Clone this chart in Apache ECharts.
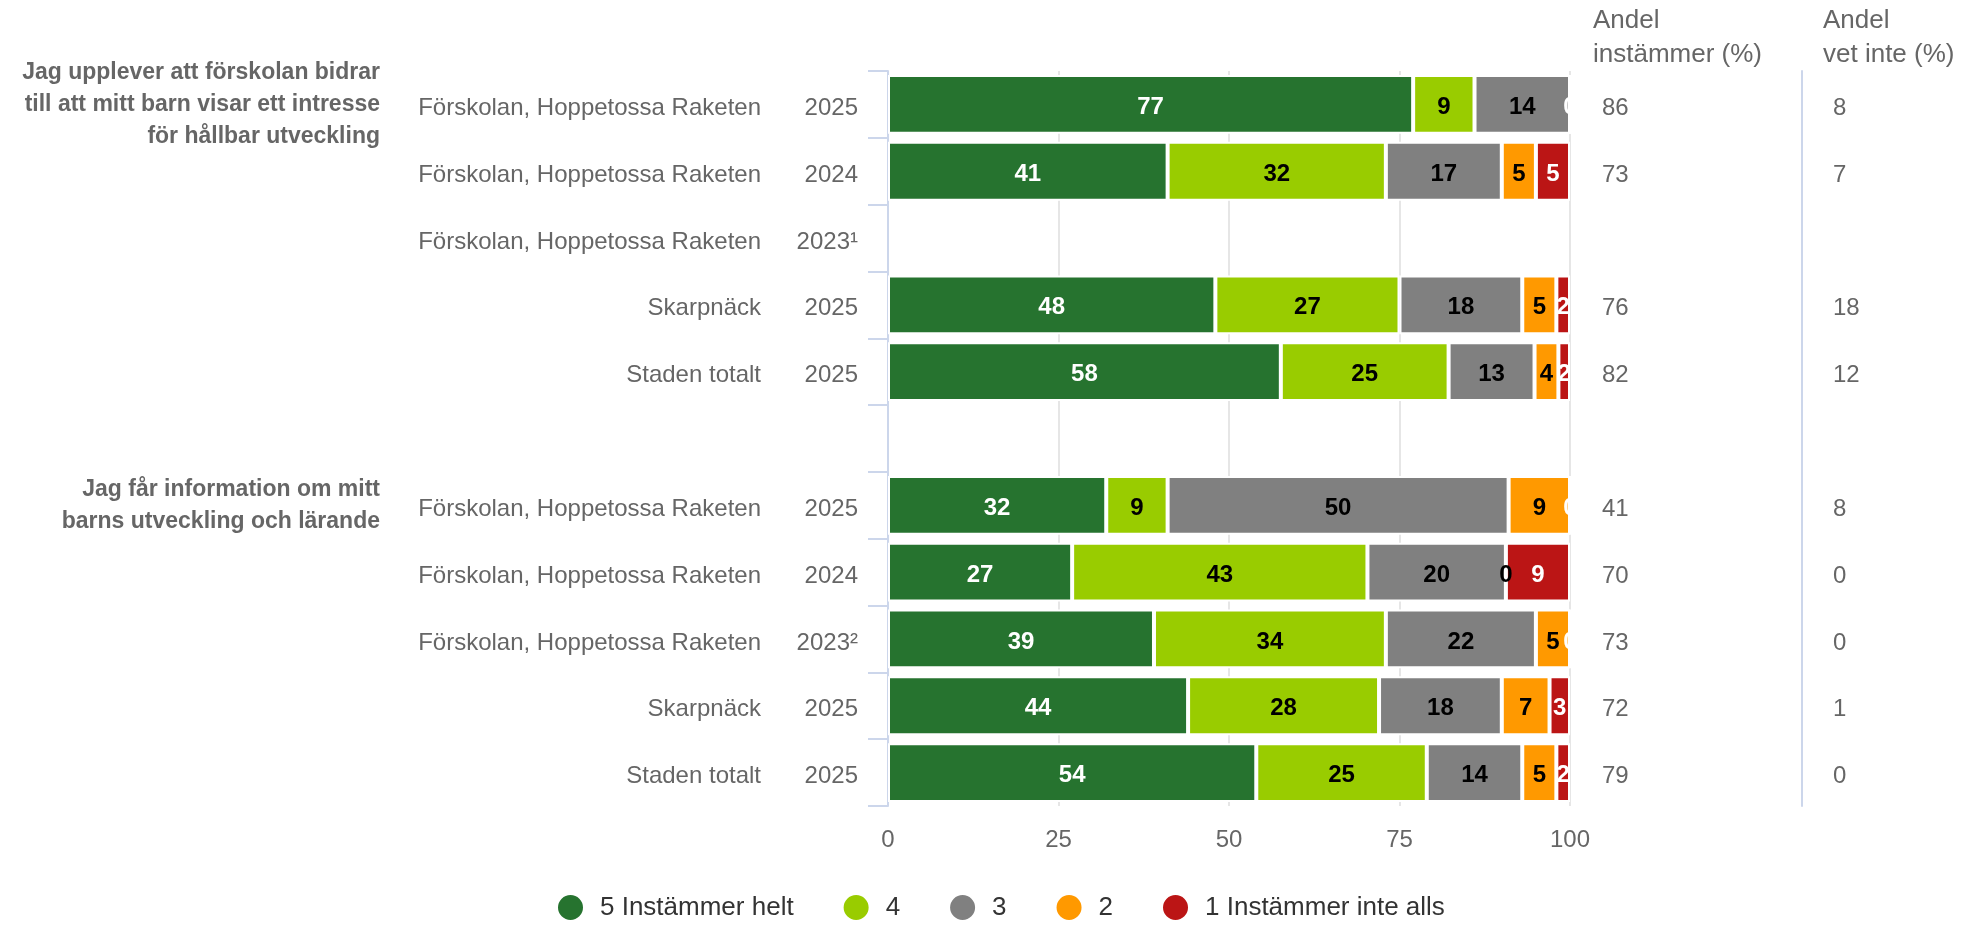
<!DOCTYPE html>
<html>
<head>
<meta charset="utf-8">
<script src="https://cdn.jsdelivr.net/npm/echarts@6/dist/echarts.min.js"></script>
<style>
  html, body { margin: 0; padding: 0; background: #fff; }
  #chart { width: 1967px; height: 925px; }
</style>
</head>
<body>
<div id="chart"></div>
<script>
// rows top to bottom, empty strings mark the missing 2023 row and the gap between questions
var groupLabels = [
  'Jag upplever att förskolan bidrar\ntill att mitt barn visar ett intresse\nför hållbar utveckling', '', '', '', '', '',
  'Jag får information om mitt\nbarns utveckling och lärande', '', '', '', ''
];
var units = [
  'Förskolan, Hoppetossa Raketen', 'Förskolan, Hoppetossa Raketen', 'Förskolan, Hoppetossa Raketen', 'Skarpnäck', 'Staden totalt', '',
  'Förskolan, Hoppetossa Raketen', 'Förskolan, Hoppetossa Raketen', 'Förskolan, Hoppetossa Raketen', 'Skarpnäck', 'Staden totalt'
];
var years = ['2025', '2024', '2023¹', '2025', '2025', '', '2025', '2024', '2023²', '2025', '2025'];

var seriesNames = ['5 Instämmer helt', '4', '3', '2', '1 Instämmer inte alls'];
var v5 = [77, 41, null, 48, 57.6, null, 32, 27, 39, 44, 54];
var v4 = [9, 32, null, 27, 24.6, null, 9, 43.3, 34, 28, 25];
var v3 = [14, 17, null, 18, 12.6, null, 50, 20.3, 22, 18, 14];
var v2 = [0, 5, null, 5, 3.5, null, 9, 0, 5, 7, 5];
var v1 = [0, 5, null, 2, 1.7, null, 0, 9.4, 0, 3, 2];

var andelInstammer = ['86', '73', '', '76', '82', '', '41', '70', '73', '72', '79'];
var andelVetInte = ['8', '7', '', '18', '12', '', '8', '0', '0', '1', '0'];

var xTicks = { min: 0, max: 100, interval: 25 };

var colors = ['#26732f', '#99cc00', '#808080', '#ff9900', '#bb1515'];
var labelColors = ['#ffffff', '#000000', '#000000', '#000000', '#ffffff'];
var values = [v5, v4, v3, v2, v1];

var font = '"Liberation Sans", Arial, Helvetica, sans-serif';
var axisBlue = '#ccd6eb';
var gray = '#666666';

var chart = echarts.init(document.getElementById('chart'), null, { renderer: 'canvas' });

var series = values.map(function (vals, si) {
  return {
    name: seriesNames[si],
    type: 'bar',
    stack: 'total',
    barCategoryGap: '12%',
    data: vals.map(function (v) { return v === null ? '-' : v; }),
    itemStyle: { color: colors[si], borderColor: '#ffffff', borderWidth: 2 },
    label: {
      show: true,
      position: 'inside',
      offset: [0, 3],
      color: labelColors[si],
      fontFamily: font,
      fontSize: 24,
      fontWeight: 'bold',
      formatter: function (p) {
        var v = p.value;
        // a zero followed by another zero sits at the same spot, only the last one is drawn
        if (v === 0 && si < values.length - 1 && values[si + 1][p.dataIndex] === 0) return '';
        return String(Math.round(v));
      }
    }
  };
});

function textAxis(data, opts) {
  return Object.assign({
    type: 'category',
    inverse: true,
    data: data,
    axisLine: { show: false },
    axisTick: { show: false },
    splitLine: { show: false }
  }, opts);
}

// row labels sit a little below the band centre, as in the source
function rowLabel(margin) {
  return {
    interval: 0, margin: margin,
    formatter: function (v) { return v ? '{p|' + v + '}' : ''; },
    rich: { p: { color: gray, fontSize: 24, fontFamily: font, padding: [8, 0, 0, 0] } }
  };
}

var groupStyle = { color: gray, fontSize: 23, fontWeight: 'bold', fontFamily: font, lineHeight: 32, align: 'right' };

chart.setOption({
  animation: false,
  textStyle: { fontFamily: font },
  legend: {
    left: 556,
    top: 893,
    padding: 0,
    icon: 'circle',
    itemWidth: 27,
    itemHeight: 27,
    itemGap: 48,
    textStyle: { color: '#333333', fontSize: 26, fontFamily: font, padding: [0, 0, 0, 11] },
    data: seriesNames
  },
  grid: { left: 888, right: 397, top: 71, bottom: 119 },
  xAxis: {
    type: 'value',
    min: xTicks.min,
    max: xTicks.max,
    interval: xTicks.interval,
    axisLine: { show: false },
    axisTick: { show: false },
    axisLabel: { color: gray, fontSize: 24, fontFamily: font, margin: 22 },
    splitLine: { lineStyle: { color: '#e6e6e6', width: 2 } }
  },
  yAxis: [
    textAxis(years, {
      position: 'left',
      axisLine: { show: true, lineStyle: { color: axisBlue, width: 2 } },
      axisTick: { show: true, length: 20, lineStyle: { color: axisBlue, width: 2 } },
      axisLabel: rowLabel(30)
    }),
    textAxis(units, {
      position: 'left',
      axisLabel: rowLabel(127)
    }),
    textAxis(groupLabels, {
      position: 'left',
      axisLabel: {
        interval: 0, margin: 508, align: 'right',
        formatter: function (v) {
          if (!v) return '';
          return v.split('\n').map(function (line) { return '{g|' + line + '}'; }).join('\n');
        },
        rich: { g: groupStyle }
      }
    }),
    textAxis(andelInstammer, {
      position: 'right',
      axisLabel: rowLabel(32)
    }),
    textAxis(andelVetInte, {
      position: 'right',
      offset: 232,
      axisLine: { show: true, lineStyle: { color: axisBlue, width: 2 } },
      axisLabel: rowLabel(31)
    })
  ],
  graphic: [
    {
      type: 'text', left: 1593, top: 4,
      style: { text: 'Andel\ninstämmer (%)', fill: gray, font: '26px ' + font, lineHeight: 34 }
    },
    {
      type: 'text', left: 1823, top: 4,
      style: { text: 'Andel\nvet inte (%)', fill: gray, font: '26px ' + font, lineHeight: 34 }
    }
  ],
  series: series
});
window.addEventListener('resize', function () { chart.resize(); });
</script>
</body>
</html>
